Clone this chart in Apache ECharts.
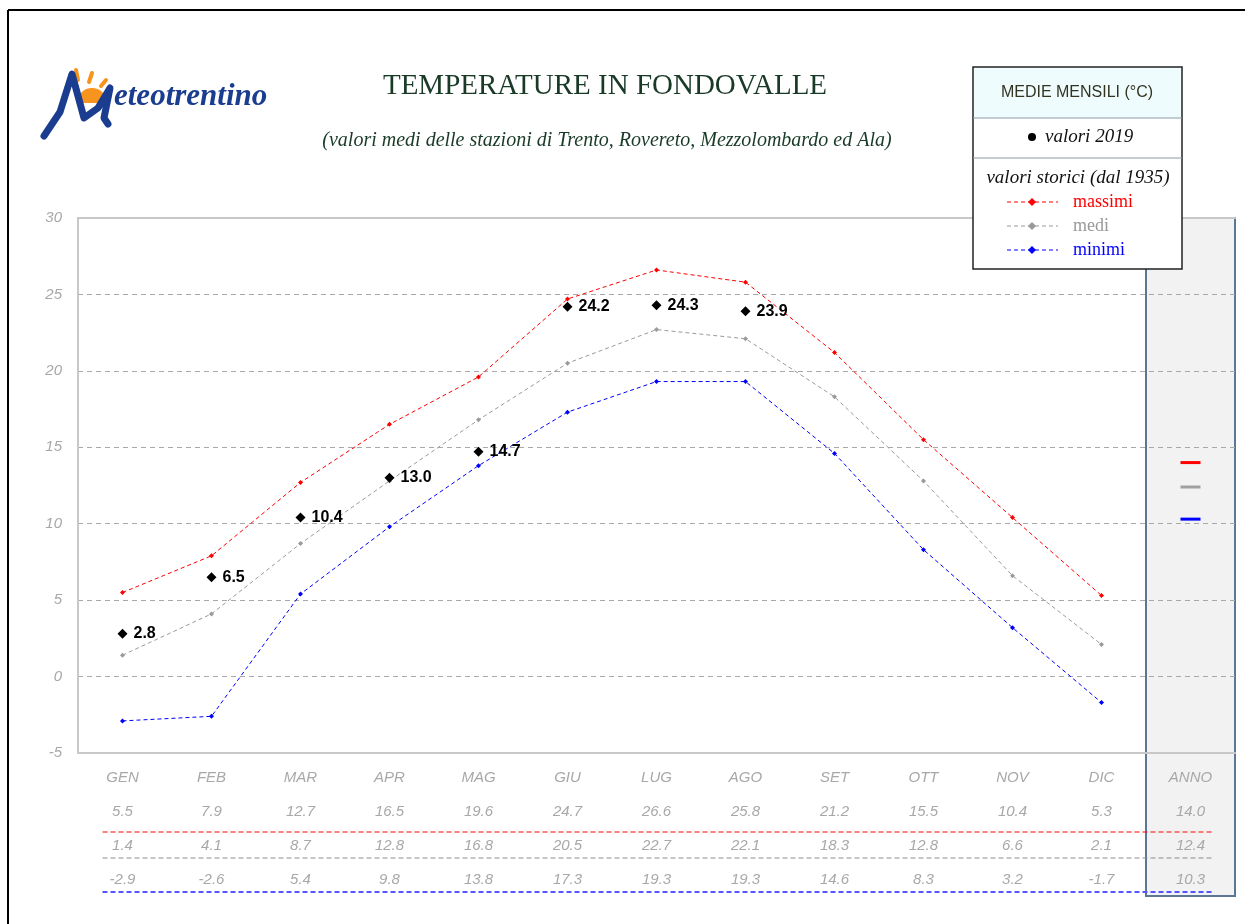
<!DOCTYPE html>
<html>
<head>
<meta charset="utf-8">
<script src="https://cdn.jsdelivr.net/npm/echarts@6/dist/echarts.min.js"></script>
<style>
html,body{margin:0;padding:0;background:#fff;}
#main{width:1245px;height:924px;}
</style>
</head>
<body>
<div id="main"></div>
<script>
const categories = ['GEN','FEB','MAR','APR','MAG','GIU','LUG','AGO','SET','OTT','NOV','DIC','ANNO'];
const massimi = [5.5, 7.9, 12.7, 16.5, 19.6, 24.7, 26.6, 25.8, 21.2, 15.5, 10.4, 5.3];
const medi    = [1.4, 4.1, 8.7, 12.8, 16.8, 20.5, 22.7, 22.1, 18.3, 12.8, 6.6, 2.1];
const minimi  = [-2.9, -2.6, 5.4, 9.8, 13.8, 17.3, 19.3, 19.3, 14.6, 8.3, 3.2, -1.7];
const valori2019 = [2.8, 6.5, 10.4, 13.0, 14.7, 24.2, 24.3, 23.9];
const annoMassimi = 14.0;
const annoMedi = 12.4;
const annoMinimi = 10.3;
const yMin = -5, yMax = 30, yInterval = 5;

const RED = '#ff0000', GRAY = '#9a9a9a', BLUE = '#0000ff';
const LABEL_GRAY = '#a8a8a8';

const chart = echarts.init(document.getElementById('main'));

function rowVal(arr, annual, i) {
  const v = i < arr.length ? arr[i] : annual;
  return v.toFixed(1);
}

function lineSeries(name, data, color) {
  return {
    name: name, type: 'line', data: data,
    symbol: 'diamond', symbolSize: 5,
    itemStyle: { color: color },
    lineStyle: { color: color, width: 1, type: [4, 3] },
    z: 3, silent: true, animation: false
  };
}
function annoSeries(val, color) {
  return {
    type: 'scatter', data: [['ANNO', val]],
    symbol: 'rect', symbolSize: [20, 3],
    itemStyle: { color: color, opacity: 1 }, z: 4, silent: true, animation: false
  };
}

const option = {
  backgroundColor: '#ffffff',
  animation: false,
  grid: { left: 78, right: 10, top: 218, bottom: 171, containLabel: false },
  xAxis: [{
    type: 'category', data: categories, boundaryGap: true, position: 'bottom',
    axisLine: { onZero: false, lineStyle: { color: '#c8c8c8', width: 2 } },
    axisTick: { show: false },
    axisLabel: {
      margin: 8, interval: 0,
      color: LABEL_GRAY, fontStyle: 'italic', fontSize: 15,
      fontFamily: 'Liberation Sans, Arial, sans-serif', lineHeight: 34,
      formatter: function (value, i) {
        return value + '\n' + rowVal(massimi, annoMassimi, i) + '\n' +
          rowVal(medi, annoMedi, i) + '\n' + rowVal(minimi, annoMinimi, i);
      }
    },
    splitLine: { show: false }
  }, {
    type: 'category', data: categories, position: 'top',
    axisLine: { onZero: false, lineStyle: { color: '#c8c8c8', width: 2 } },
    axisTick: { show: false }, axisLabel: { show: false }, splitLine: { show: false }
  }],
  yAxis: {
    type: 'value', min: yMin, max: yMax, interval: yInterval,
    axisLine: { show: true, onZero: false, lineStyle: { color: '#c8c8c8', width: 2 } },
    axisTick: { show: false },
    axisLabel: {
      margin: 16, color: LABEL_GRAY, fontStyle: 'italic', fontSize: 15,
      fontFamily: 'Liberation Sans, Arial, sans-serif'
    },
    splitLine: { show: true, lineStyle: { color: '#a8a8a8', type: [5, 4], width: 1 } }
  },
  series: [
    lineSeries('massimi', massimi, RED),
    lineSeries('medi', medi, GRAY),
    lineSeries('minimi', minimi, BLUE),
    annoSeries(annoMassimi, RED),
    annoSeries(annoMedi, '#a0a0a0'),
    annoSeries(annoMinimi, BLUE),
    {
      name: 'valori 2019', type: 'scatter', data: valori2019,
      symbol: 'diamond', symbolSize: 10, itemStyle: { color: '#000', opacity: 1 }, z: 5,
      label: {
        show: true, position: 'right', distance: 6, color: '#000',
        fontWeight: 'bold', fontSize: 16, fontFamily: 'Liberation Sans, Arial, sans-serif',
        formatter: function (p) { return p.value.toFixed(1); }
      },
      silent: true, animation: false
    }
  ]
};
chart.setOption(option);

// decorations positioned from the axes
const cx0 = chart.convertToPixel({ xAxisIndex: 0 }, 'GEN');
const cx1 = chart.convertToPixel({ xAxisIndex: 0 }, 'FEB');
const cxA = chart.convertToPixel({ xAxisIndex: 0 }, 'ANNO');
const band = cx1 - cx0;
const yTop = chart.convertToPixel({ yAxisIndex: 0 }, yMax);
const yBot = chart.convertToPixel({ yAxisIndex: 0 }, yMin);

const serif = 'Liberation Serif, Times New Roman, serif';
const sans = 'Liberation Sans, Arial, sans-serif';

function dashRow(y, color, w) {
  return { type: 'line', z: 1, silent: true,
    shape: { x1: cx0 - 20, y1: y, x2: cxA + 24, y2: y },
    style: { stroke: color, lineWidth: w, lineDash: [5, 3] } };
}
function legRow(y, color, text) {
  return [
    { type: 'line', shape: { x1: 1007, y1: y, x2: 1058, y2: y },
      style: { stroke: color, lineWidth: 1, lineDash: [4, 3] }, z: 101 },
    { type: 'polygon', shape: { points: [[1032, y - 4], [1036, y], [1032, y + 4], [1028, y]] },
      style: { fill: color }, z: 102 },
    { type: 'text', x: 1073, y: y, z: 102,
      style: { text: text, fill: color, font: '18px ' + serif, textVerticalAlign: 'middle', textAlign: 'left' } }
  ];
}

const graphics = [
  // outer frame (top & left)
  { type: 'line', shape: { x1: 8, y1: 10, x2: 1245, y2: 10 }, style: { stroke: '#000', lineWidth: 2 }, z: 50 },
  { type: 'line', shape: { x1: 8, y1: 10, x2: 8, y2: 924 }, style: { stroke: '#000', lineWidth: 2 }, z: 50 },
  // ANNO band
  { type: 'rect', z: -10, silent: true,
    shape: { x: cxA - band / 2, y: yTop, width: band, height: (yBot + 143) - yTop },
    style: { fill: '#f2f2f2', stroke: '#5b7796', lineWidth: 2 } },
  dashRow(yBot + 79, RED, 1.2),
  dashRow(yBot + 105, '#8c8c8c', 1.2),
  dashRow(yBot + 139, '#5555ff', 2),
  // title
  { type: 'text', x: 605, y: 86, z: 10,
    style: { text: 'TEMPERATURE IN FONDOVALLE', fill: '#1a3a28', font: '29px ' + serif, textAlign: 'center', textVerticalAlign: 'middle' } },
  { type: 'text', x: 607, y: 141, z: 10,
    style: { text: '(valori medi delle stazioni di Trento, Rovereto, Mezzolombardo ed Ala)', fill: '#1a3a28', font: 'italic 20px ' + serif, textAlign: 'center', textVerticalAlign: 'middle' } },
  // logo
  { type: 'circle', shape: { cx: 92, cy: 103, r: 15 }, style: { fill: '#f7941d' }, z: 10 },
  { type: 'rect', shape: { x: 74, y: 103, width: 40, height: 20 }, style: { fill: '#fff' }, z: 11 },
  { type: 'line', shape: { x1: 76, y1: 70, x2: 78, y2: 80 }, style: { stroke: '#f7941d', lineWidth: 4, lineCap: 'round' }, z: 10 },
  { type: 'line', shape: { x1: 92, y1: 73, x2: 89, y2: 82 }, style: { stroke: '#f7941d', lineWidth: 4, lineCap: 'round' }, z: 10 },
  { type: 'line', shape: { x1: 106, y1: 80, x2: 101, y2: 86 }, style: { stroke: '#f7941d', lineWidth: 4, lineCap: 'round' }, z: 10 },
  { type: 'polyline', shape: { points: [[44, 136], [60, 112], [72, 74], [84, 118], [98, 108], [110, 88], [104, 118], [108, 124]] },
    style: { stroke: '#1a3d8f', lineWidth: 7, lineJoin: 'round', lineCap: 'round', fill: null }, z: 12 },
  { type: 'text', x: 114, y: 97, z: 12,
    style: { text: 'eteotrentino', fill: '#1a3d8f', font: 'italic bold 31px ' + serif, textAlign: 'left', textVerticalAlign: 'middle' } },
  // legend box
  { type: 'rect', shape: { x: 973, y: 67, width: 209, height: 202 }, style: { fill: '#fff', stroke: '#222', lineWidth: 1.5 }, z: 100 },
  { type: 'rect', shape: { x: 974, y: 68, width: 207, height: 50 }, style: { fill: '#effcfd' }, z: 100 },
  { type: 'line', shape: { x1: 973, y1: 118, x2: 1182, y2: 118 }, style: { stroke: '#8a9aa8', lineWidth: 1 }, z: 101 },
  { type: 'line', shape: { x1: 973, y1: 158, x2: 1182, y2: 158 }, style: { stroke: '#8a9aa8', lineWidth: 1 }, z: 101 },
  { type: 'text', x: 1077, y: 93, z: 102,
    style: { text: 'MEDIE MENSILI (°C)', fill: '#333322', font: '16px ' + sans, textAlign: 'center', textVerticalAlign: 'middle' } },
  { type: 'circle', shape: { cx: 1032, cy: 137, r: 4 }, style: { fill: '#000' }, z: 102 },
  { type: 'text', x: 1045, y: 137, z: 102,
    style: { text: 'valori 2019', fill: '#111', font: 'italic 19px ' + serif, textAlign: 'left', textVerticalAlign: 'middle' } },
  { type: 'text', x: 1078, y: 178, z: 102,
    style: { text: 'valori storici (dal 1935)', fill: '#111', font: 'italic 19px ' + serif, textAlign: 'center', textVerticalAlign: 'middle' } }
].concat(legRow(202, RED, 'massimi'), legRow(226, '#999999', 'medi'), legRow(250, BLUE, 'minimi'));

chart.setOption({ graphic: { elements: graphics } });
</script>
</body>
</html>
